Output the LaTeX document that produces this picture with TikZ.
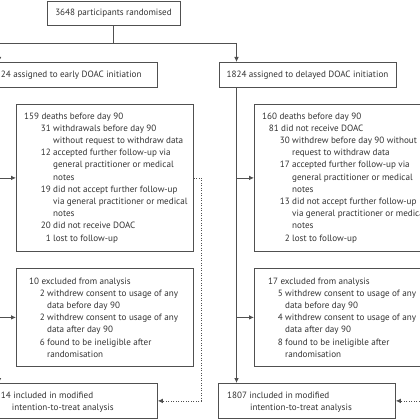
\documentclass[tikz,border=0pt]{standalone}
\usepackage{fontspec}
\setmainfont{PT Sans}
\usetikzlibrary{arrows.meta,calc}
\definecolor{lncol}{HTML}{505050}
\definecolor{txcol}{HTML}{333333}
\newcommand\itm[3]{\hspace*{#1}\llap{#2\ }#3}
\newcommand\cnt[2]{\hspace*{#1}#2}
\begin{document}
\begin{tikzpicture}[x=1pt,y=-1pt,
  box/.style={draw=lncol,line width=0.8pt,inner sep=0pt,anchor=north west},
  txt/.style={inner sep=0pt,text=txcol,font=\fontsize{9.1}{12.2}\selectfont},
  con/.style={draw=lncol,line width=0.8pt},
  arr/.style={con,-{Latex[length=5pt,width=4.6pt]}},
  dotl/.style={arr,dash pattern=on 0.9pt off 1.6pt}]
\useasboundingbox (0,0) rectangle (420,420);
\fill[white] (0,0) rectangle (420,420);
\clip (0,0) rectangle (420,420);
% boxes
\node[box,minimum width=133pt,minimum height=24.5pt] (top) at (47,0.6) {};
\node[box,minimum width=177pt,minimum height=25pt] (asgL) at (-20,62) {};
\node[box,minimum width=177pt,minimum height=25pt] (asgR) at (219,62) {};
\node[box,minimum width=177pt,minimum height=147pt] (deathL) at (16,104) {};
\node[box,minimum width=177pt,minimum height=147pt] (deathR) at (254,104) {};
\node[box,minimum width=177pt,minimum height=98pt] (exclL) at (16,268) {};
\node[box,minimum width=177pt,minimum height=98pt] (exclR) at (254,268) {};
\node[box,minimum width=177pt,minimum height=35pt] (mittL) at (-20,383) {};
\node[box,minimum width=177pt,minimum height=35pt] (mittR) at (218,383) {};
% texts
\node[txt,anchor=base] (tTop) at (113.5,16) {3648 participants randomised};
\node[txt,anchor=base west] (tAsgL) at (0.8,77.5) {24 assigned to early DOAC initiation};
\node[txt,anchor=base] (tAsgR) at (307.5,77.5) {1824 assigned to delayed DOAC initiation};
\node[txt,anchor=base west] (tDeathL) at (24,119) {\begin{tabular}[t]{@{}l@{}}
159 deaths before day 90\\
\itm{29pt}{31}{withdrawals before day 90}\\
\cnt{29pt}{without request to withdraw data}\\
\itm{29pt}{12}{accepted further follow-up via}\\
\cnt{29pt}{general practitioner or medical}\\
\cnt{29pt}{notes}\\
\itm{29pt}{19}{did not accept further follow-up}\\
\cnt{29pt}{via general practitioner or medical}\\
\cnt{29pt}{notes}\\
\itm{29pt}{20}{did not receive DOAC}\\
\itm{29pt}{1}{lost to follow-up}
\end{tabular}};
\node[txt,anchor=base west] (tDeathR) at (262,119) {\begin{tabular}[t]{@{}l@{}}
160 deaths before day 90\\
\itm{19pt}{81}{did not receive DOAC}\\
\itm{30pt}{30}{withdrew before day 90 without}\\
\cnt{30pt}{request to withdraw data}\\
\itm{30pt}{17}{accepted further follow-up via}\\
\cnt{30pt}{general practitioner or medical}\\
\cnt{30pt}{notes}\\
\itm{30pt}{13}{did not accept further follow-up}\\
\cnt{30pt}{via general practitioner or medical}\\
\cnt{30pt}{notes}\\
\itm{30pt}{2}{lost to follow-up}
\end{tabular}};
\node[txt,anchor=base west] (tExclL) at (29,284) {\begin{tabular}[t]{@{}l@{}}
10 excluded from analysis\\
\itm{18pt}{2}{withdrew consent to usage of any}\\
\cnt{18pt}{data before day 90}\\
\itm{18pt}{2}{withdrew consent to usage of any}\\
\cnt{18pt}{data after day 90}\\
\itm{18pt}{6}{found to be ineligible after}\\
\cnt{18pt}{randomisation}
\end{tabular}};
\node[txt,anchor=base west] (tExclR) at (268,284) {\begin{tabular}[t]{@{}l@{}}
17 excluded from analysis\\
\itm{17pt}{5}{withdrew consent to usage of any}\\
\cnt{17pt}{data before day 90}\\
\itm{17pt}{4}{withdrew consent to usage of any}\\
\cnt{17pt}{data after day 90}\\
\itm{17pt}{8}{found to be ineligible after}\\
\cnt{17pt}{randomisation}
\end{tabular}};
\node[txt,anchor=base west] (tMittL) at (0.8,398) {\begin{tabular}[t]{@{}l@{}}
14 included in modified\\
\cnt{11pt}{intention-to-treat analysis}
\end{tabular}};
\node[txt,anchor=base west] (tMittR) at (227,398) {\begin{tabular}[t]{@{}l@{}}
1807 included in modified\\
\cnt{23pt}{intention-to-treat analysis}
\end{tabular}};
% connectors
\coordinate (split) at (113.5,43);
\coordinate (jL) at (-1,43);
\coordinate (jR) at (236.5,43);
\draw[con] (top.south -| split) -- (split);
\draw[con] (jL) -- (jR);
\draw[arr] (jL) -- (jL |- asgL.north);
\draw[arr] (jR) -- (jR |- asgR.north);
\draw[arr] (jL |- asgL.south) -- (jL |- mittL.north);
\draw[arr] (jR |- asgR.south) -- (jR |- mittR.north);
\draw[arr] (jL |- deathL.west) -- (deathL.west);
\draw[arr] (jL |- exclL.west) -- (exclL.west);
\draw[arr] (jR |- deathR.west) -- (deathR.west);
\draw[arr] (jR |- exclR.west) -- (exclR.west);
\draw[dotl] (deathL.east) -- ++(7.5,0) |- (mittL.east);
\draw[dotl] (deathR.east) -- ++(7.5,0) |- (mittR.east);
\end{tikzpicture}
\end{document}
